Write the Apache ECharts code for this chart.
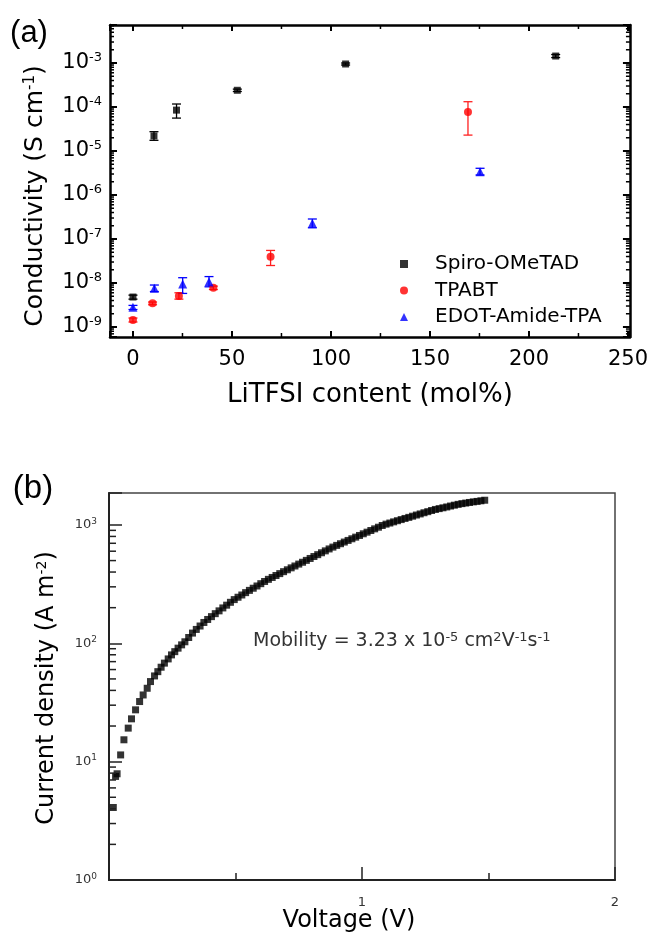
<!DOCTYPE html>
<html><head><meta charset="utf-8">
<script src="https://cdn.jsdelivr.net/npm/echarts@6/dist/echarts.min.js"></script>
<style>html,body{margin:0;padding:0;background:#fff}#c{width:651px;height:938px}</style>
</head><body><div id="c"></div>
<script>
// ---------- Panel (a): conductivity vs LiTFSI content ----------
const seriesNames = ['Spiro-OMeTAD', 'TPABT', 'EDOT-Amide-TPA'];
const spiroX = [0, 10.6, 22, 52.7, 107.4, 213.5];
const spiroY = [4.8e-9, 2.2e-5, 8.5e-5, 2.4e-4, 9.5e-4, 1.44e-3];
const spiroLow = [4.3e-9, 1.75e-5, 5.6e-5, 2.25e-4, 9.0e-4, 1.33e-3];
const spiroHigh = [5.3e-9, 2.75e-5, 1.17e-4, 2.55e-4, 1.0e-3, 1.56e-3];
const tpabtX = [0, 9.9, 23.2, 40.6, 69.5, 169.2];
const tpabtY = [1.45e-9, 3.45e-9, 5.1e-9, 7.8e-9, 3.96e-8, 7.7e-5];
const tpabtLow = [1.3e-9, 3.2e-9, 4.3e-9, 7.1e-9, 2.5e-8, 2.3e-5];
const tpabtHigh = [1.6e-9, 3.7e-9, 6.0e-9, 8.5e-9, 5.5e-8, 1.32e-4];
const edotX = [0, 10.8, 25.1, 38.4, 90.6, 175.3];
const edotY = [2.8e-9, 7.6e-9, 9.5e-9, 1.07e-8, 2.28e-7, 3.4e-6];
const edotLow = [2.5e-9, 6.4e-9, 5.8e-9, 8.2e-9, 1.8e-7, 2.85e-6];
const edotHigh = [3.1e-9, 9.0e-9, 1.32e-8, 1.4e-8, 2.85e-7, 4.05e-6];
const aXTickLabels = [0, 50, 100, 150, 200, 250];
const aXMinorTicks = [25, 75, 125, 175, 225];
const aYDecades = [-9, -8, -7, -6, -5, -4, -3];

// ---------- Panel (b): J-V curve ----------
const voltage = [0.017, 0.026, 0.032, 0.046, 0.059, 0.076, 0.089, 0.105, 0.121, 0.135,
  0.151, 0.164, 0.180, 0.193, 0.206, 0.219, 0.234, 0.247, 0.260, 0.273,
  0.287, 0.300, 0.315, 0.330, 0.345, 0.360, 0.375, 0.390, 0.405, 0.420,
  0.435, 0.450, 0.465, 0.480, 0.495, 0.510, 0.525, 0.540, 0.555, 0.570,
  0.585, 0.600, 0.615, 0.630, 0.645, 0.660, 0.675, 0.690, 0.705, 0.720,
  0.735, 0.750, 0.765, 0.780, 0.795, 0.810, 0.825, 0.840, 0.855, 0.870,
  0.885, 0.900, 0.915, 0.930, 0.945, 0.960, 0.975, 0.990, 1.005, 1.020,
  1.035, 1.050, 1.065, 1.080, 1.095, 1.110, 1.125, 1.140, 1.155, 1.170,
  1.185, 1.200, 1.215, 1.230, 1.245, 1.260, 1.275, 1.290, 1.305, 1.320,
  1.335, 1.350, 1.365, 1.380, 1.395, 1.410, 1.425, 1.440, 1.455, 1.470, 1.485];
const currentDensity = [4.1, 7.5, 7.9, 11.4, 15.3, 19.2, 23, 27.4, 32.2, 36.6,
  41.7, 47.5, 53, 57.6, 62.8, 68, 73.8, 79.8, 85, 91,
  97, 103, 112, 122, 131, 140, 150, 159, 168, 178,
  188, 199, 210, 222, 234, 245, 256, 268, 280, 292,
  305, 319, 333, 347, 360, 374, 388, 403, 418, 434,
  450, 467, 484, 502, 521, 541, 561, 582, 604, 627,
  650, 672, 694, 717, 740, 764, 789, 815, 842, 869,
  898, 927, 957, 989, 1016, 1038, 1062, 1086, 1110, 1135,
  1159, 1186, 1213, 1239, 1268, 1295, 1324, 1352, 1374, 1396,
  1419, 1445, 1469, 1493, 1514, 1531, 1549, 1567, 1581, 1600, 1618];
const bXTickLabels = [1, 2];
const bYDecades = [0, 1, 2, 3];
const mobilityText = 'Mobility = 3.23 x 10{s|-5} cm{s|2}V{s|-1}s{s|-1}';

// ---------- helpers (decoration only) ----------
const FONT = 'DejaVu Sans';
function logMinor(decs, lo, hi) {
  const out = [];
  decs.forEach(d => { for (let m = 2; m <= 9; m++) { const v = m * Math.pow(10, d); if (v > lo && v < hi) out.push(v); } });
  return out;
}
function isDecade(v) { const e = Math.log10(v); return Math.abs(e - Math.round(e)) < 1e-6 ? Math.round(e) : null; }

const aYMin = 5.93e-10, aYMax = 7.31e-3;
const bYMin = 1, bYMax = 1862;
const aYMinor = logMinor([-10, -9, -8, -7, -6, -5, -4, -3], aYMin, aYMax);
const bYMinor = logMinor([0, 1, 2, 3], bYMin, bYMax);

function errSeries(name, xs, lo, hi, color) {
  return {
    type: 'custom', name: name + ' err', xAxisIndex: 0, yAxisIndex: 0, silent: true, z: 3,
    data: xs.map((x, i) => [x, lo[i], hi[i]]),
    encode: { x: 0, y: [1, 2] },
    renderItem: function (params, api) {
      const pl = api.coord([api.value(0), api.value(1)]);
      const ph = api.coord([api.value(0), api.value(2)]);
      const w = 4.5, st = { stroke: color, lineWidth: 1.3 };
      return { type: 'group', children: [
        { type: 'line', shape: { x1: pl[0], y1: pl[1], x2: ph[0], y2: ph[1] }, style: st },
        { type: 'line', shape: { x1: pl[0] - w, y1: pl[1], x2: pl[0] + w, y2: pl[1] }, style: st },
        { type: 'line', shape: { x1: ph[0] - w, y1: ph[1], x2: ph[0] + w, y2: ph[1] }, style: st }
      ] };
    }
  };
}
function yMinorSeries(xi, yi, vals, xv, len, color, width, mirror) {
  return {
    type: 'custom', xAxisIndex: xi, yAxisIndex: yi, silent: true, z: 5,
    data: vals.map(v => [xv, v]), encode: { x: 0, y: 1 },
    renderItem: function (params, api) {
      const cs = params.coordSys; const p = api.coord([api.value(0), api.value(1)]);
      const st = { stroke: color, lineWidth: width };
      const ch = [{ type: 'line', shape: { x1: cs.x, y1: p[1], x2: cs.x + len, y2: p[1] }, style: st }];
      if (mirror) ch.push({ type: 'line', shape: { x1: cs.x + cs.width - len, y1: p[1], x2: cs.x + cs.width, y2: p[1] }, style: st });
      return { type: 'group', children: ch };
    }
  };
}
function xMinorSeries(xi, yi, vals, yv, len, color, width, mirror) {
  return {
    type: 'custom', xAxisIndex: xi, yAxisIndex: yi, silent: true, z: 5,
    data: vals.map(v => [v, yv]), encode: { x: 0, y: 1 },
    renderItem: function (params, api) {
      const cs = params.coordSys; const p = api.coord([api.value(0), api.value(1)]);
      const st = { stroke: color, lineWidth: width };
      const yb = cs.y + cs.height;
      const ch = [{ type: 'line', shape: { x1: p[0], y1: yb, x2: p[0], y2: yb - len }, style: st }];
      if (mirror) ch.push({ type: 'line', shape: { x1: p[0], y1: cs.y, x2: p[0], y2: cs.y + len }, style: st });
      return { type: 'group', children: ch };
    }
  };
}

const richA = {
  b: { fontFamily: FONT, fontSize: 21, color: '#000', lineHeight: 24 },
  s: { fontFamily: FONT, fontSize: 13, color: '#000', verticalAlign: 'top', lineHeight: 13 }
};
const richB = {
  b: { fontFamily: FONT, fontSize: 13, color: '#333', lineHeight: 16 },
  s: { fontFamily: FONT, fontSize: 9, color: '#333', verticalAlign: 'top', lineHeight: 9 }
};

const axisLineA = { show: true, onZero: false, lineStyle: { color: '#000', width: 2.5 } };

const option = {
  backgroundColor: '#fff',
  animation: false,
  grid: [
    { left: 110, top: 25, width: 520, height: 312, show: false },
    { left: 109, top: 493, width: 506, height: 387, show: true, borderColor: '#444', borderWidth: 1.5, backgroundColor: 'transparent' }
  ],
  xAxis: [
    { type: 'value', gridIndex: 0, min: -11.6, max: 251, splitNumber: 5, position: 'bottom',
      axisLine: axisLineA, splitLine: { show: false },
      axisTick: { show: true, inside: true, length: 6, lineStyle: { color: '#000', width: 2 } },
      axisLabel: { margin: 12, fontFamily: FONT, fontSize: 21, color: '#000',
        formatter: v => aXTickLabels.indexOf(Math.round(v * 1000) / 1000) >= 0 ? String(v) : '' } },
    { type: 'value', gridIndex: 0, min: -11.6, max: 251, splitNumber: 5, position: 'top',
      axisLine: axisLineA, splitLine: { show: false },
      axisTick: { show: true, inside: true, length: 6, lineStyle: { color: '#000', width: 2 } },
      axisLabel: { show: false } },
    { type: 'value', gridIndex: 1, min: 0, max: 2, interval: 1, position: 'bottom',
      axisLine: { show: true, onZero: false, lineStyle: { color: '#222', width: 2 } }, splitLine: { show: false },
      axisTick: { show: true, inside: true, length: 13, lineStyle: { color: '#222', width: 1.5 } },
      minorTick: { show: true, splitNumber: 2, length: 7, lineStyle: { color: '#222', width: 1.5 } },
      axisLabel: { margin: 16, fontFamily: FONT, fontSize: 13, color: '#333',
        formatter: v => bXTickLabels.indexOf(v) >= 0 ? String(v) : '' } }
  ],
  yAxis: [
    { type: 'log', gridIndex: 0, min: aYMin, max: aYMax, logBase: 10, position: 'left',
      axisLine: axisLineA, splitLine: { show: false },
      axisTick: { show: true, inside: true, length: 7, lineStyle: { color: '#000', width: 2 } },
      axisLabel: { margin: 8, rich: richA,
        formatter: v => { const e = isDecade(v); return (e !== null && aYDecades.indexOf(e) >= 0) ? '{b|10}{s|' + e + '}' : ''; } } },
    { type: 'log', gridIndex: 0, min: aYMin, max: aYMax, logBase: 10, position: 'right',
      axisLine: axisLineA, splitLine: { show: false },
      axisTick: { show: true, inside: true, length: 7, lineStyle: { color: '#000', width: 2 } },
      axisLabel: { show: false } },
    { type: 'log', gridIndex: 1, min: bYMin, max: bYMax, logBase: 10, position: 'left',
      axisLine: { show: true, onZero: false, lineStyle: { color: '#222', width: 2 } }, splitLine: { show: false },
      axisTick: { show: true, inside: true, length: 13, lineStyle: { color: '#222', width: 1.5 } },
      axisLabel: { margin: 12, rich: richB,
        formatter: v => { const e = isDecade(v); return (e !== null && bYDecades.indexOf(e) >= 0) ? '{b|10}{s|' + e + '}' : ''; } } }
  ],
  legend: {
    orient: 'vertical', left: 395, top: 249, itemWidth: 8, itemHeight: 8, itemGap: 6.5,
    selectedMode: false,
    textStyle: { fontFamily: FONT, fontSize: 20, color: '#000', lineHeight: 20, padding: [0, 0, 0, 22] },
    data: [
      { name: seriesNames[0], icon: 'rect' },
      { name: seriesNames[1], icon: 'circle' },
      { name: seriesNames[2], icon: 'triangle' }
    ]
  },
  series: [
    errSeries(seriesNames[0], spiroX, spiroLow, spiroHigh, '#000'),
    errSeries(seriesNames[1], tpabtX, tpabtLow, tpabtHigh, '#ff2020'),
    errSeries(seriesNames[2], edotX, edotLow, edotHigh, '#0000ff'),
    { type: 'scatter', name: seriesNames[0], xAxisIndex: 0, yAxisIndex: 0, symbol: 'rect', symbolSize: 7,
      itemStyle: { color: '#000' }, z: 4, data: spiroX.map((x, i) => [x, spiroY[i]]) },
    { type: 'scatter', name: seriesNames[1], xAxisIndex: 0, yAxisIndex: 0, symbol: 'circle', symbolSize: 8,
      itemStyle: { color: '#ff0000' }, z: 4, data: tpabtX.map((x, i) => [x, tpabtY[i]]) },
    { type: 'scatter', name: seriesNames[2], xAxisIndex: 0, yAxisIndex: 0, symbol: 'triangle', symbolSize: 9,
      itemStyle: { color: '#0000ff' }, z: 4, data: edotX.map((x, i) => [x, edotY[i]]) },
    yMinorSeries(0, 0, aYMinor, 100, 4, '#000', 1.5, true),
    xMinorSeries(0, 0, aXMinorTicks, 1e-6, 4, '#000', 1.5, true),
    { type: 'scatter', name: 'J-V', xAxisIndex: 2, yAxisIndex: 2, symbol: 'rect', symbolSize: 7,
      itemStyle: { color: '#000' }, data: voltage.map((v, i) => [v, currentDensity[i]]) },
    yMinorSeries(2, 2, bYMinor, 0.5, 7, '#222', 1.5, false)
  ],
  graphic: [
    { type: 'text', x: 29, y: 33, style: { text: '(a)', fontFamily: 'Liberation Sans', fontSize: 31, fill: '#000', align: 'center', verticalAlign: 'middle' } },
    { type: 'text', x: 33, y: 489, style: { text: '(b)', fontFamily: 'Liberation Sans', fontSize: 33, fill: '#000', align: 'center', verticalAlign: 'middle' } },
    { type: 'text', x: 35, y: 196, rotation: Math.PI / 2,
      style: { text: 'Conductivity (S cm{s|-1})', fontFamily: FONT, fontSize: 25, fill: '#000', align: 'center', verticalAlign: 'middle',
        rich: { s: { fontFamily: FONT, fontSize: 15, fill: '#000', verticalAlign: 'top', lineHeight: 15 } } } },
    { type: 'text', x: 370, y: 395,
      style: { text: 'LiTFSI content (mol%)', fontFamily: FONT, fontSize: 26, fill: '#000', align: 'center', verticalAlign: 'middle' } },
    { type: 'text', x: 47, y: 688, rotation: Math.PI / 2,
      style: { text: 'Current density (A m{s|-2})', fontFamily: FONT, fontSize: 24, fill: '#000', align: 'center', verticalAlign: 'middle',
        rich: { s: { fontFamily: FONT, fontSize: 14, fill: '#000', verticalAlign: 'top', lineHeight: 14 } } } },
    { type: 'text', x: 349, y: 921,
      style: { text: 'Voltage (V)', fontFamily: FONT, fontSize: 24, fill: '#000', align: 'center', verticalAlign: 'middle' } },
    { type: 'text', x: 253, y: 641,
      style: { text: mobilityText, fontFamily: FONT, fontSize: 19, fill: '#333', align: 'left', verticalAlign: 'middle',
        rich: { s: { fontFamily: FONT, fontSize: 13, fill: '#333', verticalAlign: 'top', lineHeight: 13 } } } }
  ]
};
const chart = echarts.init(document.getElementById('c'), null, { renderer: 'canvas' });
chart.setOption(option);
</script></body></html>
